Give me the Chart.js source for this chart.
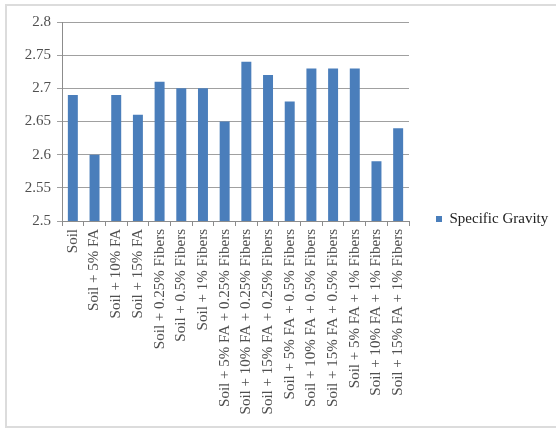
<!DOCTYPE html>
<html>
<head>
<meta charset="utf-8">
<script src="https://cdn.jsdelivr.net/npm/chart.js@4"></script>
<style>
  html, body { margin: 0; padding: 0; background: #fff; overflow: hidden; }
  #frame {
    position: absolute; left: 0; top: 0; width: 556px; height: 432px;
  }
  #box {
    position: absolute; left: 5px; top: 4px; width: 556px; height: 424px;
    border: 2px solid #dcdcdc; box-sizing: border-box;
  }
  canvas { position: absolute; left: 0; top: 0; }
</style>
</head>
<body>
<div id="frame">
  <div id="box"></div>
  <canvas id="c" width="556" height="432"></canvas>
</div>
<script>
// Mixtures tested
const categories = [
  "Soil",
  "Soil + 5% FA",
  "Soil + 10% FA",
  "Soil + 15% FA",
  "Soil + 0.25% Fibers",
  "Soil + 0.5% Fibers",
  "Soil + 1% Fibers",
  "Soil + 5% FA + 0.25% Fibers",
  "Soil + 10% FA + 0.25% Fibers",
  "Soil + 15% FA + 0.25% Fibers",
  "Soil + 5% FA + 0.5% Fibers",
  "Soil + 10% FA + 0.5% Fibers",
  "Soil + 15% FA + 0.5% Fibers",
  "Soil + 5% FA + 1% Fibers",
  "Soil + 10% FA + 1% Fibers",
  "Soil + 15% FA + 1% Fibers"
];

// Specific gravity of each mixture
const specificGravity = [
  2.69, 2.60, 2.69, 2.66, 2.71, 2.70, 2.70, 2.65,
  2.74, 2.72, 2.68, 2.73, 2.73, 2.73, 2.59, 2.64
];

const seriesName = "Specific Gravity";

// Value axis range and step
const yMin = 2.5;
const yMax = 2.8;
const yStep = 0.05;

const serif = "'Liberation Serif', 'Times New Roman', serif";
const axisGrey = "#8c8c8c";

// Give the right-hand legend a little spare room so its text is not clipped
const legendRoom = {
  id: "legendRoom",
  beforeLayout(chart) {
    const legend = chart.legend;
    if (legend && !legend._roomPatched) {
      const fit = legend.fit;
      legend.fit = function () {
        fit.call(this);
        this.width += 8;
      };
      legend._roomPatched = true;
    }
  }
};

new Chart(document.getElementById("c"), {
  type: "bar",
  data: {
    labels: categories,
    datasets: [{
      label: seriesName,
      data: specificGravity,
      backgroundColor: "#4a7ebb",
      borderWidth: 0,
      barPercentage: 0.46,
      categoryPercentage: 1.0
    }]
  },
  plugins: [legendRoom],
  options: {
    responsive: false,
    animation: false,
    devicePixelRatio: 1,
    layout: { padding: { left: 6, top: 22, right: 2, bottom: 16 } },
    plugins: {
      tooltip: { enabled: false },
      legend: {
        position: "right",
        labels: {
          boxWidth: 6,
          boxHeight: 6,
          padding: 27,
          color: "#222",
          font: { family: serif, size: 15 }
        }
      }
    },
    scales: {
      x: {
        grid: {
          display: true,
          drawOnChartArea: false,
          drawTicks: true,
          tickLength: 5,
          color: axisGrey,
          offset: true
        },
        border: { display: true, color: axisGrey, width: 1 },
        ticks: {
          autoSkip: false,
          maxRotation: 90,
          minRotation: 90,
          padding: 3,
          color: "#505050",
          font: { family: serif, size: 15 }
        },
        afterFit(scale) { scale.height = 195; }
      },
      y: {
        min: yMin,
        max: yMax,
        grid: {
          color: "#a0a0a0",
          tickLength: 5,
          drawTicks: true
        },
        border: { display: true, color: axisGrey, width: 1 },
        ticks: {
          stepSize: yStep,
          padding: 6,
          color: "#505050",
          font: { family: serif, size: 15 },
          callback: (v) => String(Number(v.toFixed(2)))
        },
        afterFit(scale) { scale.width = 56; }
      }
    }
  }
});
</script>
</body>
</html>
